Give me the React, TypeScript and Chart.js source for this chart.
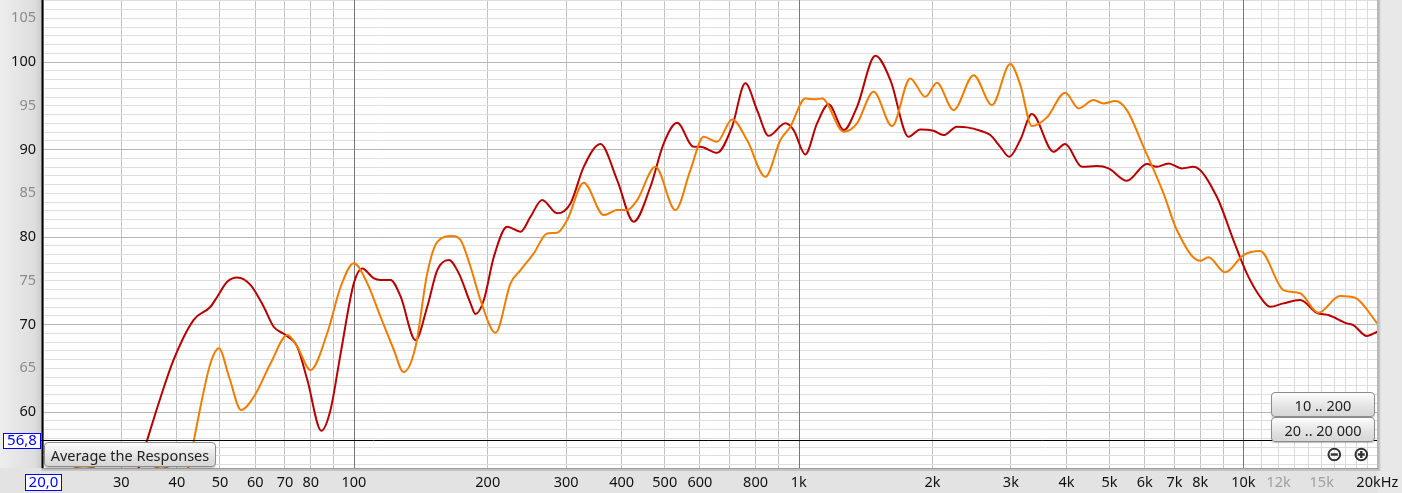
import { useEffect, useRef } from "react";
import { Chart, registerables } from "chart.js";

Chart.register(...registerables);

// [frequency Hz, SPL dB]
const RED_SERIES: [number, number][] = [
  [20, 30], [28, 46], [32.8, 53.6], [34.3, 56.8], [36.8, 61.75], [39.3, 65.94], [43.6, 70.51],
  [47.6, 72.03], [49.3, 73.18], [51.9, 74.89], [54.7, 75.39], [58.6, 74.51], [62.7, 72.03],
  [66.0, 69.75], [70.2, 68.8], [74.6, 67.46], [78.6, 63.66], [84.5, 57.86], [88.6, 60.23],
  [93.4, 66.74], [100, 74.74], [104.4, 76.42], [110.7, 75.31], [114.8, 75.09], [120.9, 75.09],
  [127.4, 73.18], [137.6, 68.23], [146.2, 72.03], [154, 76.23], [163.5, 77.37], [172.2, 75.85],
  [182.9, 72.42], [187.7, 71.2], [196, 72.8], [206.4, 77.75], [221.2, 81.18], [237, 80.61],
  [249.5, 82.32], [265, 84.23], [286.5, 82.71], [306.9, 83.85], [328.7, 88.03], [358.4, 90.63],
  [390.8, 86.51], [425.8, 81.75], [464.2, 85.75], [497.4, 90.71], [533.1, 93.06], [580.8, 90.32],
  [601.3, 90.32], [655.4, 89.63], [708.4, 92.61], [758.9, 97.57], [806.5, 94.51], [856.3, 91.58],
  [933.5, 93.0], [974.5, 92.23], [1035, 89.45], [1100, 93.0], [1168, 95.17], [1263, 92.23],
  [1353, 94.89], [1488, 100.72], [1608, 97.94], [1767, 91.46], [1877, 92.31], [2011, 92.15],
  [2118, 91.66], [2270, 92.61], [2390, 92.54], [2561, 92.15], [2697, 91.66], [2840, 90.32],
  [2975, 89.18], [3149, 91.09], [3345, 94.06], [3741, 89.75], [3975, 90.63], [4336, 88.03],
  [4684, 88.11], [4974, 87.85], [5470, 86.43], [6066, 88.34], [6388, 88.03], [6784, 88.42],
  [7270, 87.85], [7719, 88.03], [8714, 84.61], [9495, 79.66], [10176, 75.85], [10902, 73.18],
  [11482, 72.03], [12300, 72.42], [13413, 72.8], [14620, 71.35], [15525, 71.09], [17080, 70.13],
  [17670, 69.94], [18940, 68.69], [20000, 69.18],
];

const ORANGE_SERIES: [number, number][] = [
  [20, 47], [23.6, 53.6], [24.7, 53.8], [26.0, 53.6], [30, 49], [35.8, 53.6], [36.9, 53.8],
  [38.1, 53.6], [40.2, 51.5], [42.4, 53.6], [43.7, 56.8], [45.2, 60.61], [47.6, 65.57],
  [49.7, 67.28], [52.4, 64.03], [55.8, 60.23], [59.6, 61.75], [65.0, 65.57], [70.9, 68.8],
  [74.6, 67.46], [79.9, 64.8], [87.1, 69.0], [93.4, 74.32], [100, 77.0], [107.2, 74.71],
  [114.8, 70.89], [123, 67.09], [129.3, 64.57], [137.6, 67.46], [146.2, 75.85], [154, 79.46],
  [166.4, 80.11], [173.7, 79.66], [182.9, 76.61], [192.6, 72.8], [208.2, 69.06], [225, 74.71],
  [237, 76.23], [253.8, 78.14], [272, 80.42], [286.5, 80.49], [301.7, 81.94], [328.7, 86.21],
  [364.6, 82.51], [390.8, 83.09], [411.5, 83.09], [433.5, 84.23], [476.4, 88.03], [528.4, 83.09],
  [571, 87.66], [611.7, 91.46], [655.4, 90.89], [708.4, 93.45], [765.6, 91.09], [841.8, 86.89],
  [910, 91.09], [957.9, 92.61], [1035, 95.85], [1090, 95.74], [1129, 95.85], [1263, 92.03],
  [1353, 93.0], [1474, 96.61], [1622, 92.69], [1782, 98.14], [1927, 96.03], [2046, 97.63],
  [2230, 94.51], [2474, 98.51], [2721, 95.09], [2990, 99.77], [3149, 97.43], [3345, 92.69],
  [3616, 93.68], [3975, 96.49], [4259, 94.71], [4602, 95.66], [4846, 95.28], [5148, 95.54],
  [5470, 94.51], [5962, 90.32], [6612, 85.0], [7084, 80.8], [7991, 77.29], [8342, 77.68],
  [9097, 75.97], [10000, 77.94], [10902, 78.4], [12300, 73.94], [13413, 73.57], [14742, 71.35],
  [16494, 73.26], [17824, 73.06], [20000, 70.13],
];

const X_TICKS = [
  20, 30, 40, 50, 60, 70, 80, 90, 100, 200, 300, 400, 500, 600, 700, 800, 900, 1000, 2000, 3000,
  4000, 5000, 6000, 7000, 8000, 9000, 10000, 11000, 12000, 13000, 14000, 15000, 16000, 17000,
  18000, 19000, 20000,
];
const X_LABELED = [
  30, 40, 50, 60, 70, 80, 100, 200, 300, 400, 500, 600, 800, 1000, 2000, 3000, 4000, 5000, 6000,
  7000, 8000, 10000, 12000, 15000, 20000,
];
const X_GRAY_LABELS = [12000, 15000];
const X_DECADES = [100, 1000, 10000];

const Y_MIN = 53.6;
const Y_MAX = 107.1;
const Y_TICKS = Array.from({ length: 54 }, (_, i) => 54 + i); // 54..107 grid every 1 dB

const CURSOR_DB = 56.8;
const CURSOR_DB_TEXT = "56,8";
const CURSOR_FREQ = 20;
const CURSOR_FREQ_TEXT = "20,0";

const FONT = "'Noto Sans', 'Open Sans', sans-serif";
const FS = 14.5;

function fmtFreq(v: number): string {
  if (v === 20000) return "20kHz";
  if (v >= 1000) return v / 1000 + "k";
  return String(v);
}

const framePlugin = {
  id: "frame",
  beforeDraw(chart: any) {
    const { ctx, chartArea: a, width, height } = chart;
    ctx.save();
    ctx.fillStyle = "#e3e3e3";
    ctx.fillRect(0, 0, width, height);
    const g = ctx.createLinearGradient(0, 0, a.left, 0);
    g.addColorStop(0, "#ededed");
    g.addColorStop(0.8, "#dedede");
    g.addColorStop(1, "#c9c9c9");
    ctx.fillStyle = g;
    ctx.fillRect(0, 0, a.left, a.bottom);
    ctx.fillStyle = "#e8e8e8";
    ctx.fillRect(a.right, 0, width - a.right, height);
    ctx.fillStyle = "#ffffff";
    ctx.fillRect(a.left, a.top, a.right - a.left, a.bottom - a.top);
    ctx.restore();
  },
  beforeDatasetsDraw(chart: any) {
    const { ctx, chartArea: a, scales } = chart;
    ctx.save();
    ctx.strokeStyle = "#767676";
    ctx.lineWidth = 1;
    for (const v of X_DECADES) {
      const x = Math.round(scales.x.getPixelForValue(v)) + 0.5;
      ctx.beginPath();
      ctx.moveTo(x, a.top);
      ctx.lineTo(x, a.bottom);
      ctx.stroke();
    }
    ctx.restore();
  },
  afterDatasetsDraw(chart: any) {
    const { ctx, chartArea: a, scales } = chart;
    ctx.save();
    const yc = Math.round(scales.y.getPixelForValue(CURSOR_DB)) + 0.5;
    ctx.strokeStyle = "#000";
    ctx.lineWidth = 1;
    ctx.beginPath();
    ctx.moveTo(a.left - 4, yc);
    ctx.lineTo(a.right, yc);
    ctx.stroke();
    // borders
    ctx.fillStyle = "#000";
    ctx.fillRect(a.left - 1.5, 0, 2, a.bottom);
    ctx.fillStyle = "#9c9c9c";
    ctx.fillRect(a.left - 1.5, a.bottom, a.right - a.left + 3, 1.5);
    ctx.fillStyle = "#c4c4c4";
    ctx.fillRect(a.left - 1.5, a.bottom + 1.5, a.right - a.left + 3, 1.5);
    ctx.fillStyle = "#a8a8a8";
    ctx.fillRect(a.right, 0, 1.5, a.bottom + 1.5);
    ctx.fillStyle = "#c8c8c8";
    ctx.fillRect(a.right + 1.5, 0, 1.5, a.bottom + 3);
    ctx.restore();
  },
  afterDraw(chart: any) {
    const { ctx, chartArea: a, scales } = chart;
    ctx.save();
    ctx.font = `15px ${FONT}`;
    ctx.textBaseline = "middle";
    ctx.textAlign = "center";
    const yc = scales.y.getPixelForValue(CURSOR_DB);
    // y cursor box
    const bw = 37, bh = 15;
    const by = Math.round(yc - bh / 2);
    ctx.fillStyle = "#fff";
    ctx.fillRect(3, by, bw, bh);
    ctx.strokeStyle = "#0000ff";
    ctx.lineWidth = 1;
    ctx.strokeRect(3.5, by + 0.5, bw, bh);
    ctx.fillStyle = "#0000ff";
    ctx.fillText(CURSOR_DB_TEXT, 3 + bw / 2 + 0.5, by + bh / 2 + 0.5);
    // x cursor box
    const xc = scales.x.getPixelForValue(CURSOR_FREQ);
    const xw = 36, xh = 16;
    const bx = Math.round(xc - xw / 2);
    ctx.fillStyle = "#fff";
    ctx.fillRect(bx, 474, xw, xh);
    ctx.strokeStyle = "#0000ff";
    ctx.strokeRect(bx + 0.5, 474.5, xw, xh);
    ctx.fillStyle = "#0000ff";
    ctx.fillText(CURSOR_FREQ_TEXT, bx + xw / 2 + 0.5, 482.5);
    // zoom icons
    const icons = [
      { x: a.right - 43, plus: false },
      { x: a.right - 16, plus: true },
    ];
    for (const ic of icons) {
      const cy = 454.5;
      ctx.strokeStyle = "#333";
      ctx.lineWidth = 2;
      ctx.beginPath();
      ctx.arc(ic.x, cy, 5.8, 0, Math.PI * 2);
      ctx.stroke();
      ctx.fillStyle = "#333";
      ctx.fillRect(ic.x - 3.5, cy - 1.2, 7, 2.4);
      if (ic.plus) ctx.fillRect(ic.x - 1.2, cy - 3.5, 2.4, 7);
    }
    ctx.restore();
  },
};

const btnStyle: React.CSSProperties = {
  position: "absolute",
  boxSizing: "border-box",
  border: "1px solid #8c8c8c",
  borderRadius: 4,
  background: "linear-gradient(#fdfdfd, #e2e2e2 60%, #d6d6d6)",
  font: `${FS}px ${FONT}`,
  color: "#222",
  display: "flex",
  alignItems: "center",
  justifyContent: "center",
  whiteSpace: "nowrap",
  boxShadow: "0 1px 1px rgba(0,0,0,0.25)",
};

export default function App() {
  const ref = useRef<HTMLCanvasElement>(null);

  useEffect(() => {
    document.body.style.margin = "0";
    const canvas = ref.current!;
    const chart = new Chart(canvas, {
      type: "line",
      data: {
        datasets: [
          {
            label: "orange",
            data: ORANGE_SERIES.map(([x, y]) => ({ x, y })),
            borderColor: "#f07c00",
            borderWidth: 2,
            pointRadius: 0,
            fill: false,
            cubicInterpolationMode: "monotone",
            clip: 0,
          },
          {
            label: "red",
            data: RED_SERIES.map(([x, y]) => ({ x, y })),
            borderColor: "#b80000",
            borderWidth: 2,
            pointRadius: 0,
            fill: false,
            cubicInterpolationMode: "monotone",
            clip: 0,
          },
        ],
      },
      options: {
        responsive: false,
        animation: false,
        events: [],
        devicePixelRatio: 1,
        layout: { padding: { left: 0, top: 0, right: 24.7, bottom: 0 } },
        plugins: { legend: { display: false }, tooltip: { enabled: false } },
        scales: {
          x: {
            type: "logarithmic",
            min: 20,
            max: 20000,
            afterBuildTicks: (s: any) => {
              s.ticks = X_TICKS.map((v) => ({ value: v }));
            },
            afterFit: (s: any) => {
              s.height = 25;
              s.paddingLeft = 0;
              s.paddingRight = 0;
            },
            ticks: {
              autoSkip: false,
              maxRotation: 0,
              minRotation: 0,
              padding: 6,
              font: { family: FONT, size: FS },
              color: (c: any) => (X_GRAY_LABELS.includes(c.tick.value) ? "#a0a0a0" : "#111"),
              callback: (v: any) => (X_LABELED.includes(Number(v)) ? fmtFreq(Number(v)) : ""),
            },
            grid: {
              drawTicks: false,
              lineWidth: 1,
              color: (c: any) => {
                const v = c.tick?.value;
                if (X_DECADES.includes(v)) return "rgba(0,0,0,0)";
                if (v > 10000) return "#dadada";
                return "#c2c2c2";
              },
            },
            border: { display: false },
          },
          y: {
            type: "linear",
            min: Y_MIN,
            max: Y_MAX,
            afterBuildTicks: (s: any) => {
              s.ticks = Y_TICKS.map((v) => ({ value: v }));
            },
            afterFit: (s: any) => {
              s.width = 43;
              s.paddingTop = 0;
              s.paddingBottom = 0;
            },
            ticks: {
              autoSkip: false,
              padding: 7,
              font: { family: FONT, size: FS },
              color: (c: any) => (c.tick.value % 10 === 0 ? "#111" : "#8c8c8c"),
              callback: (v: any) => (Number(v) % 5 === 0 && Number(v) >= 60 ? String(v) : ""),
            },
            grid: {
              drawTicks: false,
              lineWidth: 1,
              color: (c: any) => (c.tick?.value % 10 === 0 ? "#b6b6b6" : "#dedede"),
            },
            border: { display: false },
          },
        },
      },
      plugins: [framePlugin],
    } as any);
    return () => chart.destroy();
  }, []);

  return (
    <div style={{ position: "relative", width: 1402, height: 493, overflow: "hidden" }}>
      <canvas ref={ref} width={1402} height={493} style={{ display: "block" }} />
      <div style={{ ...btnStyle, left: 44, top: 442, width: 172, height: 25 }}>Average the Responses</div>
      <div style={{ ...btnStyle, left: 1271, top: 392, width: 104, height: 25 }}>10 .. 200</div>
      <div style={{ ...btnStyle, left: 1271, top: 417, width: 104, height: 25 }}>20 .. 20 000</div>
    </div>
  );
}
